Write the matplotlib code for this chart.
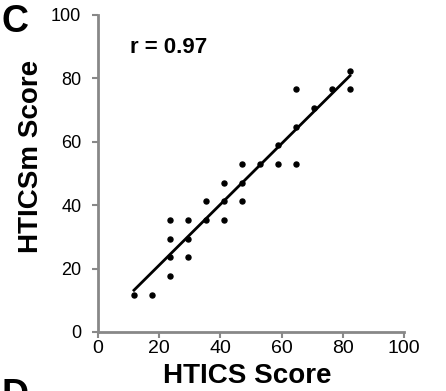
import matplotlib.pyplot as plt
import numpy as np

plt.rcParams['font.family'] = ['Liberation Sans', 'DejaVu Sans']

# HTICS score vs HTICSm score (scores on a 1/17 grid)
htics = np.array([2, 3, 4, 4, 4, 4, 5, 5, 5, 6, 6, 7, 7, 7, 8, 8, 8,
                  9, 10, 11, 10, 11, 11, 12, 13, 14, 14]) * 100 / 17
hticsm = np.array([2, 2, 3, 4, 5, 6, 6, 5, 4, 6, 7, 8, 7, 6, 7, 8, 9,
                   9, 9, 9, 10, 11, 13, 12, 13, 14, 13]) * 100 / 17
ticks = [0, 20, 40, 60, 80, 100]

fig = plt.figure(figsize=(4.46, 3.91), dpi=100)
ax = fig.add_axes([0.2197, 0.151, 0.686, 0.811])

ax.scatter(htics, hticsm, s=13, color="black", zorder=3)
m, b = np.polyfit(htics, hticsm, 1)
xs = np.array([htics.min(), htics.max()])
ax.plot(xs, m * xs + b, color="black", linewidth=2)

ax.set_xlim(0, 100)
ax.set_ylim(0, 100)
ax.set_xticks(ticks)
ax.set_yticks(ticks)
ax.tick_params(axis="both", colors="#888888", labelcolor="black",
               length=4, width=1.5)
ax.tick_params(axis="y", pad=8, labelsize=13)
ax.tick_params(axis="x", pad=2, labelsize=14)
for s in ["top", "right"]:
    ax.spines[s].set_visible(False)
for s in ["left", "bottom"]:
    ax.spines[s].set_color("#888888")
    ax.spines[s].set_linewidth(2)

ax.set_xlabel("HTICS Score", fontsize=20, fontweight="bold", va="center")
ax.xaxis.set_label_coords(0.489, -0.139)
ax.set_ylabel("HTICSm Score", fontsize=20, fontweight="bold", va="center")
ax.yaxis.set_label_coords(-0.219, 0.552)
ax.text(0.105, 0.88, "r = 0.97", transform=ax.transAxes, fontsize=16,
        fontweight="bold", va="baseline")

fig.text(0.004, 0.99, "C", fontsize=27, fontweight="bold", va="top")
fig.text(0.004, -0.06, "D", fontsize=27, fontweight="bold", va="bottom")

fig.savefig("out.png", dpi=100)
